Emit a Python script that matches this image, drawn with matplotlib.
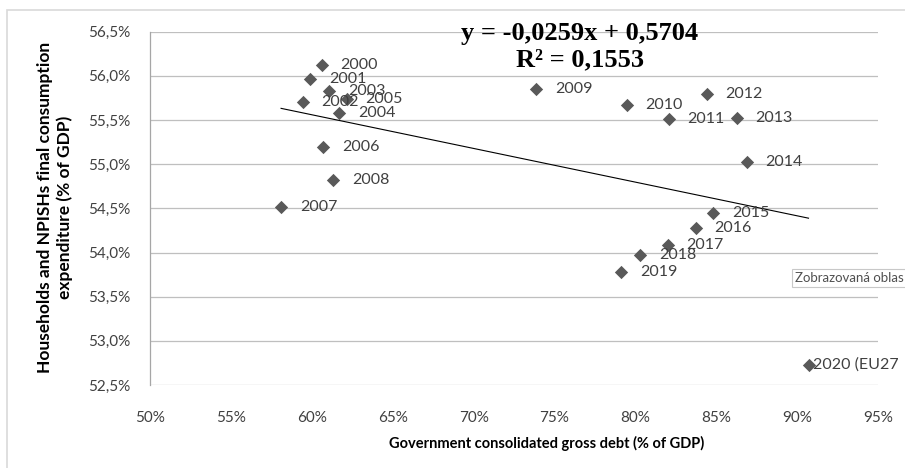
import matplotlib
matplotlib.use('Agg')
import matplotlib.pyplot as plt
from matplotlib.ticker import FuncFormatter, MultipleLocator
from matplotlib.patches import Rectangle
import numpy as np

# data (percent of GDP)
years = ['2000', '2001', '2002', '2003', '2004', '2005', '2006', '2007', '2008',
         '2009', '2010', '2011', '2012', '2013', '2014', '2015', '2016', '2017',
         '2018', '2019', '2020 (EU27']
debt = [60.61, 59.88, 59.43, 61.08, 61.68, 62.15, 60.71, 58.09, 61.33,
        73.87, 79.48, 82.06, 84.43, 86.29, 86.91, 84.84, 83.75, 82.00,
        80.30, 79.13, 90.72]
consumption = [56.12, 55.97, 55.70, 55.83, 55.575, 55.74, 55.19, 54.52, 54.82,
               55.85, 55.67, 55.51, 55.79, 55.52, 55.02, 54.45, 54.28, 54.09,
               53.97, 53.78, 52.73]
equation = 'y = -0,0259x + 0,5704\nR² = 0,1553'

x = np.array(debt)
y = np.array(consumption)

plt.rcParams['font.family'] = ['Lato', 'DejaVu Sans']

fig = plt.figure(figsize=(9.05, 4.68), dpi=100)
ax = fig.add_axes([150.3 / 905, 1 - 385 / 468, (877.7 - 150.3) / 905, (385 - 31.7) / 468])

# outer chart border
fig.patches.append(Rectangle((7 / 905, -0.1), 1.2, 1 - 10 / 468 + 0.1,
                             transform=fig.transFigure, fill=False,
                             edgecolor='#d9d9d9', linewidth=1.2))

ax.scatter(x, y, marker='D', s=46, color='#595959', zorder=3, linewidths=0)

# linear trend line over the data range
k, b = np.polyfit(x, y, 1)
xt = np.array([x.min(), x.max()])
ax.plot(xt, k * xt + b, color='black', linewidth=0.8, zorder=2)

for i, lab in enumerate(years):
    dx = 3.5 if i == len(years) - 1 else 13.5
    ax.annotate(lab, (x[i], y[i]), xytext=(dx, 0), textcoords='offset points',
                va='center', ha='left', fontsize=11.5, color='#404040',
                annotation_clip=False, zorder=4)

ax.set_xlim(50, 95)
ax.set_ylim(52.5, 56.5)
ax.xaxis.set_major_locator(MultipleLocator(5))
ax.yaxis.set_major_locator(MultipleLocator(0.5))
ax.xaxis.set_major_formatter(FuncFormatter(lambda v, pos: '%d%%' % round(v)))
ax.yaxis.set_major_formatter(FuncFormatter(lambda v, pos: ('%.1f%%' % v).replace('.', ',')))
ax.tick_params(axis='both', length=0, labelsize=11, labelcolor='#404040')
ax.tick_params(axis='y', pad=14)
ax.tick_params(axis='x', pad=19)

ax.grid(axis='y', color='#bfbfbf', linewidth=0.9)
ax.set_axisbelow(True)
for s in ['top', 'right', 'bottom']:
    ax.spines[s].set_visible(False)
ax.spines['left'].set_color('#a6a6a6')
ax.spines['left'].set_linewidth(0.9)

fig.text(547 / 905, 1 - 443 / 468, 'Government consolidated gross debt (% of GDP)',
         ha='center', va='center', fontsize=10.5, fontweight='bold')
fig.text(55 / 905, 1 - 207 / 468, 'Households and NPISHs final consumption\nexpenditure (% of GDP)',
         ha='center', va='center', rotation=90, fontsize=12.5, fontweight='bold',
         linespacing=1.3)

fig.text(580 / 905, 1 - 46.5 / 468, equation, ha='center', va='center',
         fontsize=19, fontweight='bold', family='Liberation Serif', linespacing=1.22)

fig.text(795 / 905, 1 - 278 / 468, 'Zobrazovaná oblas', ha='left', va='center',
         fontsize=9.5, color='#505050',
         bbox=dict(boxstyle='square,pad=0.25', facecolor='white', edgecolor='#c8c8c8', linewidth=0.8))

plt.savefig('out.png', dpi=100)
